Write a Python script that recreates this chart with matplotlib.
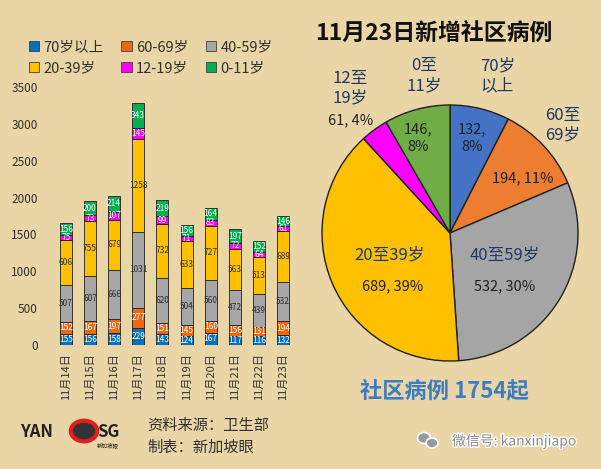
import matplotlib
matplotlib.use("Agg")
import matplotlib.pyplot as plt
import matplotlib.patheffects as pe
from matplotlib.patches import Patch, Circle, Ellipse

plt.rcParams['font.family'] = ['Noto Sans CJK SC', 'DejaVu Sans']

# daily community cases by age group
dates = ["11月14日", "11月15日", "11月16日", "11月17日", "11月18日",
         "11月19日", "11月20日", "11月21日", "11月22日", "11月23日"]
age_groups = ["70岁以上", "60-69岁", "40-59岁", "20-39岁", "12-19岁", "0-11岁"]
age_70 = [155, 156, 158, 229, 143, 124, 167, 117, 116, 132]
age_60 = [152, 167, 197, 277, 151, 145, 160, 156, 131, 194]
age_40 = [507, 607, 666, 1031, 620, 504, 560, 472, 439, 532]
age_20 = [606, 755, 679, 1258, 732, 633, 727, 563, 513, 689]
age_12 = [75, 73, 107, 145, 99, 71, 83, 72, 64, 61]
age_0 = [156, 200, 214, 343, 219, 156, 164, 197, 152, 146]

bar_colors = ['#0070C0', '#F0670F', '#A6A6A6', '#FFC000', '#FF00FF', '#00B050']
text_colors = ['white', 'white', '#303030', '#303030', 'white', 'white']

# pie for 11月23日 (clockwise from top)
pie_names = ["70岁\n以上", "60至\n69岁", "40至59岁", "20至39岁", "12至\n19岁", "0至\n11岁"]
pie_values = [132, 194, 532, 689, 61, 146]
pie_pct = [8, 11, 30, 39, 4, 8]
pie_colors = ['#4472C4', '#ED7D31', '#A5A5A5', '#FFC000', '#FF00FF', '#70AD47']

bg = '#E9D5A5'
fig = plt.figure(figsize=(6.01, 4.69), dpi=100, facecolor=bg)

# ---- stacked bars ----
ax = fig.add_axes([49 / 601, 124 / 469, 251 / 601, 258 / 469])
ax.set_facecolor('none')
series = [age_70, age_60, age_40, age_20, age_12, age_0]
x = range(len(dates))
bottom = [0] * len(dates)
handles = []
for vals, col, tc, name in zip(series, bar_colors, text_colors, age_groups):
    ax.bar(x, vals, 0.5, bottom=bottom, color=col, edgecolor='#202020', linewidth=0.6)
    for i, v in enumerate(vals):
        ax.text(i, bottom[i] + v / 2, str(v), ha='center', va='center',
                fontsize=6, color=tc)
    bottom = [b + v for b, v in zip(bottom, vals)]
    handles.append(Patch(facecolor=col, edgecolor='#404040', linewidth=0.6, label=name))

ax.set_xlim(-0.7, 9.7)
ax.set_ylim(0, 3500)
ax.set_yticks(range(0, 3501, 500))
ax.set_xticks(list(x))
ax.set_xticklabels(dates, rotation=90, fontsize=8, color='#303030')
ax.tick_params(axis='y', labelsize=8.5, colors='#303030', length=0, pad=8)
ax.tick_params(axis='x', length=0, pad=6)
for s in ax.spines.values():
    s.set_visible(False)

order = [0, 3, 1, 4, 2, 5]
fig.legend([handles[i] for i in order], [age_groups[i] for i in order],
           ncol=3, loc='upper left', bbox_to_anchor=(16 / 601, 1 - 27 / 469),
           frameon=False, fontsize=10.5, handlelength=0.7, handleheight=0.7,
           handletextpad=0.3, columnspacing=1.2, labelspacing=0.5,
           labelcolor='#303030')

# ---- pie ----
pax = fig.add_axes([322 / 601, 108 / 469, 256 / 601, 256 / 469])
pax.pie(pie_values, colors=pie_colors, startangle=90, counterclock=False,
        wedgeprops=dict(edgecolor='#202020', linewidth=1.0))
pax.set_xlim(-1, 1)
pax.set_ylim(-1, 1)
pax.set_aspect('equal')

total = sum(pie_values)
vals_txt = [f"{v}, {p}%" for v, p in zip(pie_values, pie_pct)]
navy = '#1F3864'
name_pos = [(0.37, 1.23), (0.88, 0.84), (0.43, -0.17), (-0.47, -0.17), (-0.78, 1.13), (-0.2, 1.23)]
val_pos = [(0.17, 0.74), (0.57, 0.43), (0.43, -0.42), (-0.45, -0.42), (-0.78, 0.88), (-0.25, 0.74)]
for k in range(len(pie_values)):
    nx, ny = name_pos[k]
    pax.text(nx, ny, pie_names[k], ha='center', va='center', fontsize=12,
             color=navy, linespacing=1.2, clip_on=False)
    t = vals_txt[k]
    if k in (0, 5):
        t = t.replace(", ", ",\n")
    vx, vy = val_pos[k]
    pax.text(vx, vy, t, ha='center', va='center', fontsize=10.5,
             color='#202020', linespacing=1.3, clip_on=False)

fig.text(434 / 601, 1 - 33 / 469, "11月23日新增社区病例", ha='center', va='center',
         fontsize=16.5, fontweight='bold', color='#111111')
fig.text(444 / 601, 1 - 391 / 469, f"社区病例 {total}起", ha='center', va='center',
         fontsize=16, fontweight='bold', color='#3C7DC2')

# ---- footer ----
fig.text(20 / 601, 1 - 432 / 469, "YAN", ha='left', va='center', fontsize=12,
         fontweight='bold', color='#222222')
fig.patches.append(Circle((84 / 601, 1 - 431 / 469), 0.022, transform=fig.transFigure,
                          facecolor='#333333', edgecolor='#E02020', linewidth=3))
fig.text(97 / 601, 1 - 432 / 469, "SG", ha='left', va='center', fontsize=12,
         fontweight='bold', color='#222222')
fig.text(97 / 601, 1 - 446 / 469, "新加坡眼", ha='left', va='center', fontsize=4,
         color='#222222')
fig.text(147 / 601, 1 - 425 / 469, "资料来源：卫生部", ha='left', va='center',
         fontsize=11, color='#303030')
fig.text(147 / 601, 1 - 447 / 469, "制表：新加坡眼", ha='left', va='center',
         fontsize=11, color='#303030')

for cx, cy, w, h in [(424, 438, 13, 11), (432, 443, 12, 10)]:
    fig.patches.append(Ellipse((cx / 601, 1 - cy / 469), w / 601, h / 469,
                               transform=fig.transFigure, facecolor='#9a9a9a',
                               edgecolor='white', linewidth=1.2))
fig.text(452 / 601, 1 - 441 / 469, "微信号: kanxinjiapo", ha='left', va='center',
         fontsize=10, color='#8a8a8a',
         path_effects=[pe.withStroke(linewidth=2, foreground='white')])

fig.savefig("out.png", dpi=100, facecolor=bg)
